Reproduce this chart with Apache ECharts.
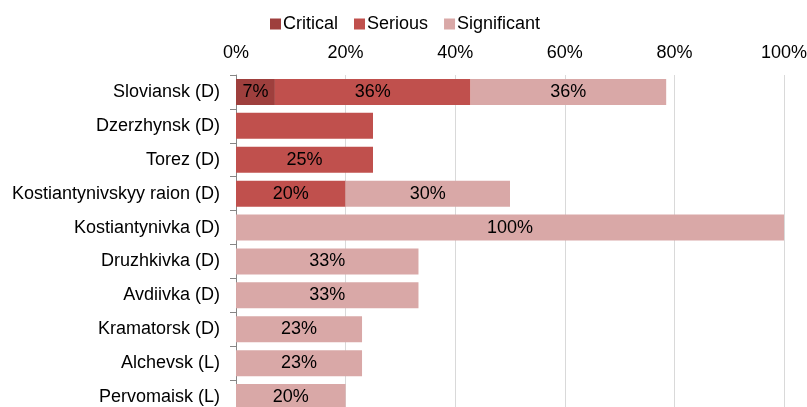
<!DOCTYPE html>
<html>
<head>
<meta charset="utf-8">
<script src="https://cdn.jsdelivr.net/npm/echarts@6/dist/echarts.min.js"></script>
<style>
    html, body { margin: 0; padding: 0; background: #fff; }
    #chart { width: 807px; height: 407px; }
</style>
</head>
<body>
<div id="chart"></div>
<script>
const categories = [
    'Sloviansk (D)', 'Dzerzhynsk (D)', 'Torez (D)', 'Kostiantynivskyy raion (D)',
    'Kostiantynivka (D)', 'Druzhkivka (D)', 'Avdiivka (D)', 'Kramatorsk (D)',
    'Alchevsk (L)', 'Pervomaisk (L)'
];
const critical = [7.1, null, null, null, null, null, null, null, null, null];
const serious = [35.7, 25, 25, 20, null, null, null, null, null, null];
const significant = [35.7, null, null, 30, 100, 33.3, 33.3, 23, 23, 20];
// Dzerzhynsk has no value label in the original
const hideLabel = ['Dzerzhynsk (D)'];
const ticks = [0, 20, 40, 60, 80, 100];

const chart = echarts.init(document.getElementById('chart'));

function makeData(arr) {
    return arr.map((v, i) => {
        if (hideLabel.includes(categories[i])) {
            return { value: v, label: { show: false } };
        }
        return v;
    });
}

function makeSeries(name, arr, color) {
    return {
        name: name,
        type: 'bar',
        stack: 'total',
        barWidth: 26,
        itemStyle: { color: color },
        label: {
            show: true,
            position: 'inside',
            color: '#000',
            fontSize: 18,
            fontFamily: 'Liberation Sans',
            formatter: p => Math.round(p.value) + '%'
        },
        data: makeData(arr)
    };
}

chart.setOption({
    animation: false,
    textStyle: { fontFamily: 'Liberation Sans' },
    legend: {
        top: 10,
        left: 265,
        itemWidth: 11,
        itemHeight: 11,
        itemGap: 16,
        icon: 'rect',
        textStyle: { fontSize: 18, color: '#000', padding: [0, 0, 0, -3] },
        data: ['Critical', 'Serious', 'Significant']
    },
    grid: {
        left: 236,
        right: 23,
        top: 75,
        height: 339,
        outerBoundsMode: 'none'
    },
    xAxis: {
        type: 'value',
        position: 'top',
        min: 0,
        max: 100,
        interval: 20,
        axisLine: { show: false },
        axisTick: { show: false },
        axisLabel: {
            fontSize: 18,
            color: '#000',
            margin: 13,
            formatter: v => ticks.includes(v) ? v + '%' : ''
        },
        splitLine: { lineStyle: { color: '#d9d9d9', width: 1 } }
    },
    yAxis: {
        type: 'category',
        inverse: true,
        data: categories,
        axisLine: { lineStyle: { color: '#868686', width: 1 } },
        axisTick: { show: true, length: 6, lineStyle: { color: '#868686' } },
        axisLabel: { fontSize: 18, color: '#000', margin: 16 }
    },
    series: [
        makeSeries('Critical', critical, '#9e3f3d'),
        makeSeries('Serious', serious, '#c0504d'),
        makeSeries('Significant', significant, '#d9a8a7')
    ]
});
</script>
</body>
</html>
